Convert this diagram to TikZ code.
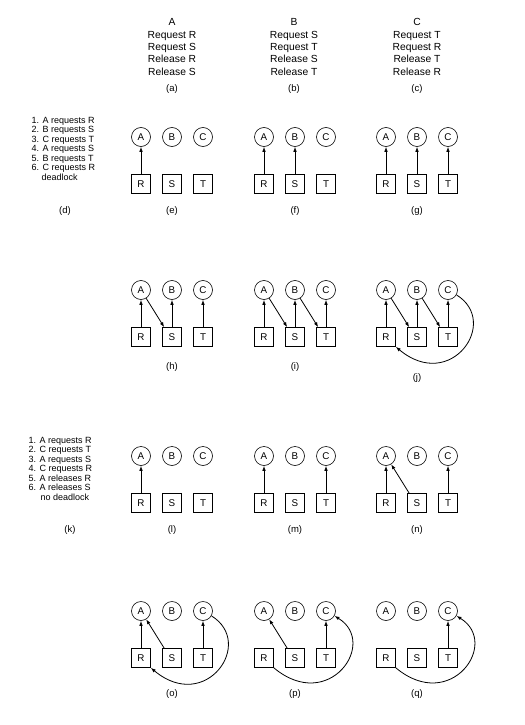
\documentclass[tikz,border=0pt]{standalone}
\usepackage{fontspec}
\setmainfont{Liberation Sans}
\usepackage{tikz}
\usetikzlibrary{positioning,arrows.meta}

\begin{document}
\begin{tikzpicture}[
  x=1bp,
  y=-1bp,
  proc/.style={
    circle,
    draw,
    fill=white,
    inner sep=0pt,
    line width=.6bp,
    minimum size=19bp,
    font=\fontsize{9.8bp}{11bp}\selectfont
  },
  res/.style={
    rectangle,
    draw,
    fill=white,
    inner sep=0pt,
    line width=.6bp,
    minimum size=19bp,
    font=\fontsize{9.8bp}{11bp}\selectfont
  },
  edge/.style={draw=black,line width=.8bp,-{Latex[length=5bp,width=3.6bp]}},
  caption/.style={font=\fontsize{9.5bp}{11bp}\selectfont},
  script/.style={align=center,font=\fontsize{10.3bp}{12.3bp}\selectfont},
  events/.style={align=left,anchor=north west,inner sep=0pt,
    font=\fontsize{9bp}{9.5bp}\selectfont}
]
  \useasboundingbox (0,0) rectangle (525,725);

  % the three processes
  \node[script] (progA) at (172,47) {A\\Request R\\Request S\\Release R\\Release S};
  \node[script] (progB) at (294,47) {B\\Request S\\Request T\\Release S\\Release T};
  \node[script] (progC) at (417,47) {C\\Request T\\Request R\\Release T\\Release R};
  \node[caption] (capA) at (172,89) {(a)};
  \node[caption] (capB) at (294,89) {(b)};
  \node[caption] (capC) at (417,89) {(c)};

  % order of requests
  \node[events] (seqD) at (31.5,117) {1. A requests R\\2. B requests S\\3. C requests T\\4. A requests S\\5. B requests T\\6. C requests R\\\hspace*{10bp}deadlock};
  \node[caption] (capD) at (65,211) {(d)};
  \node[events] (seqK) at (28.5,437) {1. A requests R\\2. C requests T\\3. A requests S\\4. C requests R\\5. A releases R\\6. A releases S\\\hspace*{12bp}no deadlock};
  \node[caption] (capK) at (70,530) {(k)};

  % processes and resources of each graph
  \foreach \p/\px/\py/\dy in {e/141/137/74, f/264/137/74, g/386/137/74,
                              h/141/290/77, i/264/290/77, j/386/290/88,
                              l/141/456/74, m/264/456/74, n/386/456/74,
                              o/141/611/83, p/264/611/83, q/386/611/83} {
    \begin{scope}[shift={(\px,\py)},name prefix=\p-]
      \node[proc] (A) at (0,0)  {A};
      \node[proc] (B) at (31,0) {B};
      \node[proc] (C) at (62,0) {C};
      \node[res] (R) at (0,47)  {R};
      \node[res] (S) at (31,47) {S};
      \node[res] (T) at (62,47) {T};
      \node[caption] (cap) at (31,\dy) {(\p)};
    \end{scope}
  }

  % (e)
  \draw[edge] (e-R)--(e-A);
  % (f)
  \draw[edge] (f-R)--(f-A);
  \draw[edge] (f-S)--(f-B);
  % (g)
  \draw[edge] (g-R)--(g-A);
  \draw[edge] (g-S)--(g-B);
  \draw[edge] (g-T)--(g-C);
  % (h)
  \draw[edge] (h-R)--(h-A);
  \draw[edge] (h-S)--(h-B);
  \draw[edge] (h-T)--(h-C);
  \draw[edge] (h-A)--([xshift=2bp]h-S.north west);
  % (i)
  \draw[edge] (i-R)--(i-A);
  \draw[edge] (i-S)--(i-B);
  \draw[edge] (i-T)--(i-C);
  \draw[edge] (i-A)--([xshift=2bp]i-S.north west);
  \draw[edge] (i-B)--([xshift=2bp]i-T.north west);
  % (j)
  \draw[edge] (j-R)--(j-A);
  \draw[edge] (j-S)--(j-B);
  \draw[edge] (j-T)--(j-C);
  \draw[edge] (j-A)--([xshift=2bp]j-S.north west);
  \draw[edge] (j-B)--([xshift=2bp]j-T.north west);
  \draw[edge] (j-C.-30) .. controls +(44,27) and +(55,46) .. (j-R.south east);

  % (l)
  \draw[edge] (l-R)--(l-A);
  % (m)
  \draw[edge] (m-R)--(m-A);
  \draw[edge] (m-T)--(m-C);
  % (n)
  \draw[edge] (n-R)--(n-A);
  \draw[edge] ([xshift=2bp]n-S.north west)--(n-A);
  \draw[edge] (n-T)--(n-C);
  % (o)
  \draw[edge] (o-R)--(o-A);
  \draw[edge] ([xshift=2bp]o-S.north west)--(o-A);
  \draw[edge] (o-T)--(o-C);
  \draw[edge] (o-C.-30) .. controls +(44,27) and +(55,46) .. (o-R.south east);
  % (p)
  \draw[edge] ([xshift=2bp]p-S.north west)--(p-A);
  \draw[edge] (p-T)--(p-C);
  \draw[edge] (p-R.south east) .. controls +(55,46) and +(44,27) .. (p-C.-30);
  % (q)
  \draw[edge] (q-T)--(q-C);
  \draw[edge] (q-R.south east) .. controls +(55,46) and +(44,27) .. (q-C.-30);
\end{tikzpicture}
\end{document}
